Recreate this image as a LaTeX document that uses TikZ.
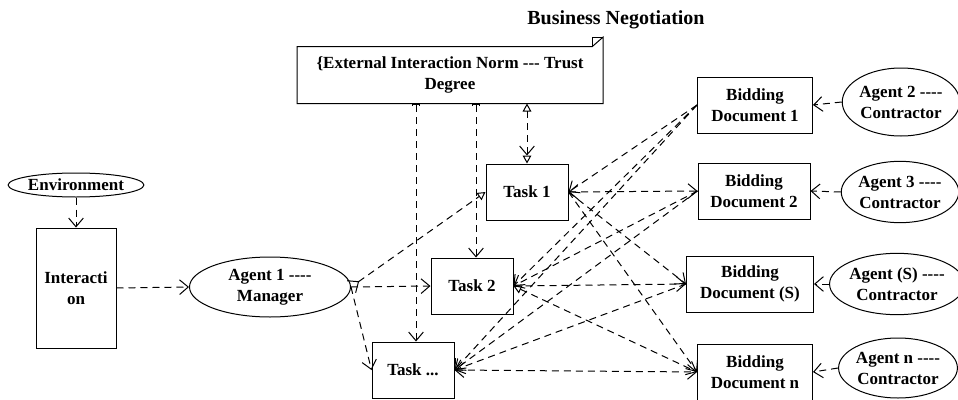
\documentclass[tikz,border=0pt]{standalone}
\usepackage{fontspec}
\setmainfont{Liberation Serif}
\usetikzlibrary{arrows.meta,shapes.geometric}

% plain hyphens, kept apart so they do not turn into dashes
\newcommand{\hy}{-\kern0pt}

\tikzset{every picture/.style={line width=0.75pt}}
\tikzset{
  lbl/.style={font=\bfseries\fontsize{12.75}{15.75}\selectfont, align=center, inner sep=0pt},
  box/.style={lbl, draw, rectangle, minimum height=42pt},
  agent/.style={lbl, draw, ellipse},
  link/.style={dash pattern=on 5.25pt off 3.75pt},
  >={Straight Barb[length=6.5pt,width=11pt]},
  tri/.tip={Triangle[open,length=6pt,width=6.5pt]},
  tee/.tip={Tee Barb[length=2pt,width=6pt]},
}

\begin{document}
\begin{tikzpicture}[x=0.75pt,y=0.75pt,yscale=-1,xscale=1]
    \useasboundingbox (0,0) rectangle (958,400);

    \node [lbl, font=\bfseries\fontsize{15}{18}\selectfont] (title) at (616,20) {Business Negotiation};

    % norm note with folded corner
    \node [lbl, minimum width=228.75pt, minimum height=42pt] (norm) at (450,75) {\{External Interaction Norm \hy\hy- Trust\\Degree};
    \draw (norm.south west) -- (norm.south east) -- ([yshift=-7pt]norm.north east) -- ([xshift=-8pt]norm.north east) -- (norm.north west) -- cycle;
    \draw ([xshift=-8pt]norm.north east) -- ([xshift=-8pt,yshift=-7pt]norm.north east) -- ([yshift=-7pt]norm.north east);

    \node [agent, minimum width=96.75pt, minimum height=18pt] (env) at (76,185) {Environment};
    \node [box, minimum width=60pt, minimum height=90pt] (inter) at (76,288) {Interacti\\on};
    \node [agent, minimum width=120.75pt, minimum height=45pt] (agent1) at (270,287) {Agent 1 \hy\hy\hy-\\Manager};

    \node [box, minimum width=61.5pt] (task1) at (527,192) {Task 1};
    \node [box, minimum width=61.5pt] (task2) at (472,286) {Task 2};
    \node [box, minimum width=61.5pt] (task3) at (413,370) {Task ...};

    \node [box, minimum width=86.25pt] (doc1) at (755,105) {Bidding\\Document 1};
    \node [box, minimum width=84pt] (doc2) at (754,191) {Bidding\\Document 2};
    \node [box, minimum width=95.25pt] (docS) at (750,284) {Bidding\\Document (S)};
    \node [box, minimum width=86.25pt] (docn) at (755,372) {Bidding\\Document n};

    \node [agent, minimum width=87pt, minimum height=51pt] (agent2) at (901,102) {Agent 2 \hy\hy\hy-\\Contractor};
    \node [agent, minimum width=87pt, minimum height=46pt] (agent3) at (900,192) {Agent 3 \hy\hy\hy-\\Contractor};
    \node [agent, minimum width=91.5pt, minimum height=46pt] (agentS) at (897,284) {Agent (S) \hy\hy\hy-\\Contractor};
    \node [agent, minimum width=88.5pt, minimum height=45pt] (agentn) at (898,368) {Agent n \hy\hy\hy-\\Contractor};

    % environment and manager side
    \draw [link, ->] (env.south) -- (inter.north);
    \draw [link, ->] (inter.east) -- (agent1.west);
    \draw [link, {>}-{tri}] (agent1.east) -- (task1.west);
    \draw [link, ->] (agent1.east) -- (task2.west);
    \draw [link, ->] (agent1.east) -- (task3.west);

    % norm to tasks
    \draw [link, {tri}-{>tri}] (norm.south -| task1.north) -- (task1.north);
    \draw [link, {tee}->] ([xshift=3pt]norm.south -| task2.north) -- ([xshift=3pt]task2.north);
    \draw [link, {tee}->] ([xshift=2.25pt]norm.south -| task3.north) -- ([xshift=2.25pt]task3.north);

    % bidding documents and tasks
    \draw [link, ->] (doc1.west) -- (task1.east);
    \draw [link, ->] (doc1.west) -- (task2.east);
    \draw [link, ->] (doc1.west) -- (task3.east);
    \draw [link, <->] (doc2.west) -- (task1.east);
    \draw [link, ->] (doc2.west) -- (task2.east);
    \draw [link, ->] (doc2.west) -- (task3.east);
    \draw [link, ->] (task1.east) -- (docS.west);
    \draw [link, ->] (task2.east) -- (docS.west);
    \draw [link, ->] (docS.west) -- (task3.east);
    \draw [link, ->] (task1.east) -- (docn.west);
    \draw [link, {tri}->] (task2.east) -- (docn.west);
    \draw [link, <->] (task3.east) -- (docn.west);

    % contractors to bidding documents
    \draw [link, ->] (agent2.west) -- (doc1.east);
    \draw [link, ->] (agent3.west) -- (doc2.east);
    \draw [link, ->] (agentS.west) -- (docS.east);
    \draw [link, ->] (agentn.west) -- (docn.east);
\end{tikzpicture}
\end{document}
